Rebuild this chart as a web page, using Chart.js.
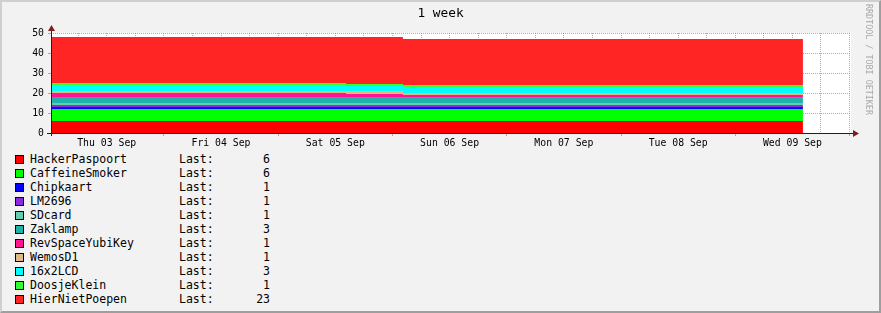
<!DOCTYPE html>
<html>
<head>
<meta charset="utf-8">
<script src="https://cdn.jsdelivr.net/npm/chart.js@4.4.1/dist/chart.umd.min.js"></script>
<style>
html, body { margin: 0; padding: 0; }
body { width: 881px; height: 313px; overflow: hidden; position: relative; background: #F2F2F2; font-family: 'DejaVu Sans Mono', monospace; }
#frame { position: absolute; left: 0; top: 0; width: 881px; height: 313px; box-sizing: border-box;
  border-top: 2px solid #CFCFCF; border-left: 2px solid #CFCFCF; border-right: 2px solid #9E9E9E; border-bottom: 2px solid #9E9E9E; }
#chart { position: absolute; left: 0; top: 0; }
#title { position: absolute; left: 0; top: 5px; width: 881px; text-align: center; font-size: 12.8px; color: #000; }
#mark { position: absolute; left: 864px; top: 4px; writing-mode: vertical-rl; font-size: 8.4px; color: #A8A8A8; white-space: nowrap; }
.row { position: absolute; left: 0; height: 14px; line-height: 14px; font-size: 11.5px; color: #000; white-space: pre; }
.sw { position: absolute; left: 15px; top: 3px; width: 7px; height: 7px; border: 1px solid #000; }
.name { position: absolute; left: 30px; top: 0; }
.last { position: absolute; left: 179px; top: 0; }
.val { position: absolute; left: 220px; width: 50px; text-align: right; top: 0; }
</style>
</head>
<body>
<div id="frame"></div>
<canvas id="chart" width="881" height="150"></canvas>
<div id="title">1 week</div>
<div id="mark">RRDTOOL / TOBI OETIKER</div>
<div id="legend"></div>
<script>
// hours since Thu 03 Sep 00:00
var timeHours = [0.3, 62.25, 74.2, 158.2];
var dayLabels = ['Thu 03 Sep', 'Fri 04 Sep', 'Sat 05 Sep', 'Sun 06 Sep', 'Mon 07 Sep', 'Tue 08 Sep', 'Wed 09 Sep'];

var seriesNames = ['HackerPaspoort', 'CaffeineSmoker', 'Chipkaart', 'LM2696', 'SDcard', 'Zaklamp',
                   'RevSpaceYubiKey', 'WemosD1', '16x2LCD', 'DoosjeKlein', 'HierNietPoepen'];
var seriesColors = ['#FF0000', '#00FF00', '#0000FF', '#8A2BE2', '#66CDAA', '#20B2AA',
                    '#FF1493', '#DEB887', '#00FFFF', '#32FF32', '#FF2525'];

var hackerPaspoort  = [6, 6, 6, 6];
var caffeineSmoker  = [6, 6, 6, 6];
var chipkaart       = [1, 1, 1, 1];
var lm2696          = [1, 1, 1, 1];
var sdcard          = [1, 1, 1, 1];
var zaklamp         = [3, 3, 3, 3];
var revSpaceYubiKey = [2, 1.5, 1, 1];
var wemosD1         = [1, 1.5, 1, 1];
var lcd16x2         = [3, 2.5, 3, 3];
var doosjeKlein     = [1, 1, 1, 1];
var hierNietPoepen  = [23, 23.5, 23, 23];

var seriesValues = [hackerPaspoort, caffeineSmoker, chipkaart, lm2696, sdcard, zaklamp,
                    revSpaceYubiKey, wemosD1, lcd16x2, doosjeKlein, hierNietPoepen];

var minorGrid = 'rgba(143,143,143,0.75)';
var majorGrid = 'rgba(222,79,79,0.6)';
var axisFont = { family: 'DejaVu Sans Mono', size: 9.8 };

var datasets = seriesNames.map(function (name, i) {
    return {
        label: name,
        data: timeHours.map(function (t, j) { return { x: t, y: seriesValues[i][j] }; }),
        backgroundColor: seriesColors[i],
        borderWidth: 0,
        pointRadius: 0,
        stepped: 'before',
        fill: i === 0 ? 'origin' : '-1'
    };
});

var xTicks = [];
for (var h = 6; h <= 168; h += 6) xTicks.push(h);

var canvasBg = {
    id: 'canvasBg',
    beforeDraw: function (chart) {
        var a = chart.chartArea, c = chart.ctx;
        c.save();
        c.fillStyle = '#FFFFFF';
        c.fillRect(a.left, a.top, a.right - a.left, a.bottom - a.top);
        c.restore();
    }
};

var axes = {
    id: 'axes',
    afterDraw: function (chart) {
        var a = chart.chartArea, c = chart.ctx;
        var y0 = Math.round(a.bottom) + 0.5, x0 = Math.round(a.left) + 0.5;
        c.save();
        c.strokeStyle = '#1F1F1F';
        c.lineWidth = 1;
        c.beginPath();
        c.moveTo(a.left - 4, y0); c.lineTo(a.right + 4, y0);
        c.moveTo(x0, a.bottom + 3); c.lineTo(x0, a.top - 4);
        c.stroke();
        c.fillStyle = '#801F1F';
        c.beginPath();
        c.moveTo(a.right + 8, y0); c.lineTo(a.right + 2, y0 - 3.5); c.lineTo(a.right + 2, y0 + 3.5);
        c.closePath(); c.fill();
        c.beginPath();
        c.moveTo(x0, a.top - 8); c.lineTo(x0 - 3.5, a.top - 2); c.lineTo(x0 + 3.5, a.top - 2);
        c.closePath(); c.fill();
        c.restore();
    }
};

new Chart(document.getElementById('chart'), {
    type: 'line',
    data: { datasets: datasets },
    plugins: [canvasBg, axes],
    options: {
        responsive: false,
        animation: false,
        devicePixelRatio: 1,
        layout: { padding: { left: 0, top: 33, right: 30, bottom: 0 } },
        plugins: { legend: { display: false }, tooltip: { enabled: false } },
        scales: {
            x: {
                type: 'linear', min: 0.3, max: 168.3, z: 1,
                afterFit: function (s) { s.height = 17; },
                afterBuildTicks: function (s) { s.ticks = xTicks.map(function (v) { return { value: v }; }); },
                ticks: {
                    autoSkip: false, maxRotation: 0, minRotation: 0, padding: 2,
                    color: '#000', font: axisFont,
                    callback: function (v) { return v % 24 === 12 ? dayLabels[(v - 12) / 24] : ''; }
                },
                grid: {
                    tickLength: 3,
                    color: function (ctx) { return ctx.tick && ctx.tick.value % 24 === 0 ? majorGrid : minorGrid; },
                    tickColor: function (ctx) { return ctx.tick && ctx.tick.value % 24 === 0 ? majorGrid : 'rgba(0,0,0,0)'; }
                },
                border: { display: false, dash: [1, 1] }
            },
            y: {
                stacked: true, min: 0, max: 50, z: 1,
                afterFit: function (s) { s.width = 51; },
                ticks: {
                    stepSize: 5, padding: 4, color: '#000', font: axisFont,
                    callback: function (v) { return v % 10 === 0 ? String(v) : ''; }
                },
                grid: {
                    tickLength: 3,
                    color: function (ctx) { return ctx.tick && ctx.tick.value % 10 === 0 ? majorGrid : minorGrid; },
                    tickColor: function (ctx) { return ctx.tick && ctx.tick.value % 10 === 0 ? majorGrid : 'rgba(0,0,0,0)'; }
                },
                border: { display: false, dash: [1, 1] }
            }
        }
    }
});

// legend with last values
var legend = document.getElementById('legend');
seriesNames.forEach(function (name, i) {
    var row = document.createElement('div');
    row.className = 'row';
    row.style.top = (152 + i * 14) + 'px';
    var vals = seriesValues[i];
    row.innerHTML = '<span class="sw" style="background:' + seriesColors[i] + '"></span>' +
        '<span class="name">' + name + '</span>' +
        '<span class="last">Last:</span>' +
        '<span class="val">' + vals[vals.length - 1] + '</span>';
    legend.appendChild(row);
});
</script>
</body>
</html>
